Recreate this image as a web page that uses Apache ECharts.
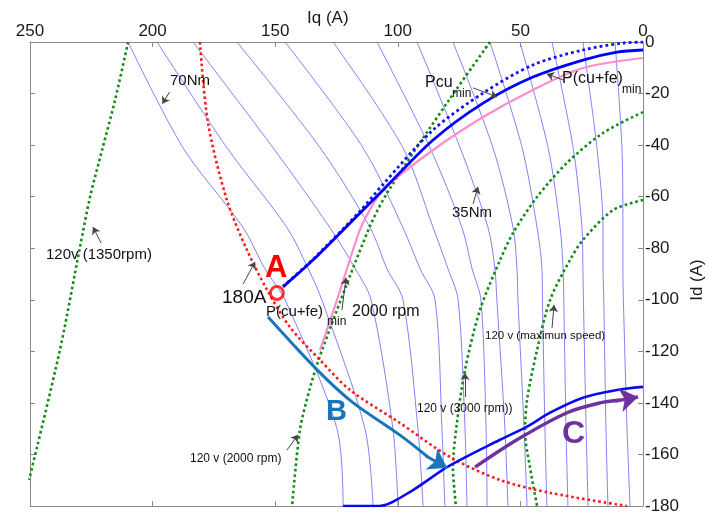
<!DOCTYPE html>
<html>
<head>
<meta charset="utf-8">
<script src="https://cdn.jsdelivr.net/npm/echarts@6/dist/echarts.min.js"></script>
<style>
html,body{margin:0;padding:0;background:#fff;}
#chart{width:709px;height:515px;}
</style>
</head>
<body>
<div id="chart"></div>
<script>
// ---- constant-torque contours: iq (A) at each id level, one entry per contour ----
const torqueNm = [70, 65, 60, 55, 50, 45, 40, 35, 30, 25, 20, 15, 10, 5];
const torqueIdLevels = [0, -41, -72, -88, -100, -150, -180];
const iqAtId0   = [210.0, 198.2, 183.5, 165.6, 146.0, 126.4, 108.5, 92.2, 77.5, 62.4, 50.2, 37.1, 24.5, 11.4];
const iqAtId41  = [187.6, 169.7, 150.9, 131.7, 114.2, 97.9, 86.9, 74.6, 61.2, 49.3, 38.7, 28.5, 18.8, 8.6];
const iqAtId72  = [163.1, 145.2, 127.7, 111.3, 97.9, 85.6, 73.8, 63.2, 53.0, 43.2, 33.8, 24.9, 16.3, 8.2];
const iqAtId88  = [154.2, 136.5, 117.3, 104.4, 90.9, 79.5, 69.7, 60.4, 51.4, 41.2, 32.6, 24.5, 16.3, 8.2];
const iqAtId100 = [146.0, 131.0, 110.9, 97.9, 84.8, 75.4, 66.1, 59.6, 51.0, 41.0, 32.3, 24.3, 16.0, 8.0];
const iqAtId150 = [124.8, 113.4, 102.0, 91.8, 82.0, 72.6, 64.0, 56.3, 48.5, 40.0, 31.4, 23.2, 15.1, 6.5];
const iqAtId180 = [122.3, 110.1, 99.9, 89.7, 80.8, 71.8, 63.6, 55.1, 47.3, 39.2, 30.6, 22.4, 14.3, 5.3];

// ---- 120 V voltage-limit curves [iq, id] ----
const volt1350 = [[210.0,0],[215.3,-22.5],[220.6,-41.9],[225.5,-60.1],[229.6,-79.5],[237.8,-119.5],[250.4,-169.9]];
const volt2000 = [[62.4,0],[79.1,-22.5],[103.6,-57.4],[111.7,-72.2],[130.9,-119.5],[135.8,-134.2],[139.9,-150.5],[143.1,-180]];
const volt3000 = [[0,-27.2],[16.3,-35.3],[31.0,-46.9],[43.2,-60.1],[53.0,-74.1],[58.3,-84.6],[66.5,-104.0],[72.6,-127.2],[75.9,-147.8],[77.5,-164.9],[76.3,-180]];
const voltMax  = [[0,-61.3],[12.2,-65.2],[24.5,-76.8],[29.8,-84.6],[37.9,-100.1],[43.2,-119.5],[47.3,-138.9],[48.1,-151.7],[46.1,-164.9],[43.2,-180]];

// ---- 180 A current limit ----
const current180 = [[180.7,0],[177.4,-31.4],[169.7,-61.3],[161.5,-80.7],[153.3,-96.2],[144.0,-110.6],[131.7,-123.4],[119.5,-135.0],[99.1,-147.8],[78.7,-161.0],[58.3,-169.9],[37.9,-174.9],[6.5,-180]];

// ---- loss-minimising trajectories ----
const pCuFeMin = [[146.8,-95.0],[134.6,-84.6],[115.4,-66.3],[106.0,-57.4],[85.6,-38.0],[65.2,-23.7],[44.9,-13.6],[24.5,-7.0],[10.6,-3.9],[0,-3.1]];
const pCuMin   = [[146.8,-94.8],[134.6,-84.3],[115.4,-65.6],[106.0,-55.2],[85.6,-34.1],[65.2,-19.8],[44.9,-8.9],[24.5,-3.1],[8.2,-0.4],[0,0]];
const pCuFe2000 = [[0,-6.2],[24.5,-10.1],[44.9,-18.6],[65.2,-29.1],[85.6,-41.9],[106.0,-57.4],[114.6,-71.0],[118.3,-80.7],[124.8,-100.1],[131.7,-119.5]];
const fluxWeakPath = [[122.3,-180],[107.7,-180],[93.8,-173.8],[79.9,-164.9],[58.3,-154.3],[47.3,-149.2],[37.9,-143.8],[24.5,-138.0],[10.6,-135.0],[0,-133.8]];

// ---- operating-point moves B and C ----
const moveB = [[152.9,-106.7],[132.9,-127.2],[118.7,-139.6],[99.1,-152.5],[87.7,-161.0]];
const moveBTip = [[88.5,-160.6],[79.9,-165.2]];
const moveC = [[68.5,-164.9],[51.4,-154.3],[31.0,-143.8],[17.5,-140.0],[9.4,-138.9]];
const moveCTip = [[11.4,-139.3],[2.0,-137.7]];
const pointA = [149.3, -97.4];

// ---- axis ticks ----
const iqTicks = [0, 50, 100, 150, 200, 250];
const idTicks = [-180, -160, -140, -120, -100, -80, -60, -40, -20, 0];

// ---- annotation pointers [from, to] in (iq, id) ----
const pointers = [
  [[193.1,-19.4],[196.0,-24.0]],   // 70Nm
  [[221.0,-78.0],[224.3,-71.8]],   // 120v (1350rpm)
  [[163.1,-93.9],[158.2,-85.3]],   // 180A
  [[122.8,-104.0],[121.1,-91.5]],  // 2000 rpm
  [[69.3,-17.8],[59.5,-21.3]],     // Pcu min
  [[32.6,-14.7],[39.2,-12.4]],     // P(cu+fe) min
  [[69.3,-62.8],[67.3,-56.2]],     // 35Nm
  [[37.1,-110.9],[36.3,-102.0]],   // maximum speed
  [[72.6,-137.7],[72.6,-128.4]],   // 3000 rpm
  [[145.2,-158.3],[140.7,-152.4]]  // 2000 rpm voltage
];

const FONT = 'Liberation Sans, Arial, Helvetica, sans-serif';
const chart = echarts.init(document.getElementById('chart'), null, {renderer: 'canvas'});

const torqueRows = [iqAtId0, iqAtId41, iqAtId72, iqAtId88, iqAtId100, iqAtId150, iqAtId180];
const series = [];
torqueNm.forEach((t, i) => {
  series.push({
    name: t + 'Nm', type: 'line', smooth: 0.3, showSymbol: false, silent: true,
    data: torqueRows.map((row, k) => [row[i], torqueIdLevels[k]]),
    lineStyle: {color: '#7474f4', width: 0.9}, z: 1
  });
});

function dotted(data, color, width, z) {
  return {type: 'line', smooth: 0.3, showSymbol: false, silent: true, data,
    lineStyle: {color, width, type: [width, width * 1.1], cap: 'butt'}, z: z || 3};
}
function solid(data, color, width, z) {
  return {type: 'line', smooth: 0.3, showSymbol: false, silent: true, data,
    lineStyle: {color, width}, z: z || 4};
}

series.push(dotted(volt1350, '#138a13', 2.6));
series.push(dotted(volt2000, '#138a13', 2.6));
series.push(dotted(volt3000, '#138a13', 2.6));
series.push(dotted(voltMax, '#138a13', 2.6));
series.push(dotted(current180, '#ff1a1a', 2.6));
series.push(solid(pCuFe2000, '#ff8ccc', 2.2, 4));
series.push(dotted(pCuMin, '#1010ff', 2.8, 5));
series.push(solid(pCuFeMin, '#0000ff', 2.8, 6));
series.push(solid(fluxWeakPath, '#0a0af0', 2.6, 6));
series.push(solid(moveB, '#1b75bb', 3, 7));
series.push({type: 'lines', coordinateSystem: 'cartesian2d', silent: true, z: 7,
  data: [{coords: moveBTip}], symbol: ['none', 'arrow'], symbolSize: 18,
  lineStyle: {color: '#1b75bb', width: 3, opacity: 1}});
series.push(solid(moveC, '#7031a0', 3.4, 7));
series.push({type: 'lines', coordinateSystem: 'cartesian2d', silent: true, z: 7,
  data: [{coords: moveCTip}], symbol: ['none', 'arrow'], symbolSize: 18,
  lineStyle: {color: '#7031a0', width: 3.4, opacity: 1}});
series.push({type: 'lines', coordinateSystem: 'cartesian2d', silent: true, z: 8,
  data: pointers.map(p => ({coords: p})), symbol: ['none', 'arrow'], symbolSize: 7,
  lineStyle: {color: '#444', width: 1, opacity: 1}});
series.push({type: 'scatter', silent: true, z: 9, data: [pointA], symbol: 'circle', symbolSize: 13,
  itemStyle: {color: 'rgba(0,0,0,0)', borderColor: '#ff0000', borderWidth: 3}});

const axisGray = '#8a8a8a';
const xBase = {type: 'value', min: 0, max: 250, interval: 50, inverse: true, gridIndex: 0,
  splitLine: {show: false},
  axisLine: {onZero: false, lineStyle: {color: axisGray, width: 1}},
  axisTick: {inside: true, length: 5, lineStyle: {color: axisGray}}};
const yBase = {type: 'value', min: -180, max: 0, interval: 20, gridIndex: 0,
  splitLine: {show: false},
  axisLine: {onZero: false, lineStyle: {color: axisGray, width: 1}},
  axisTick: {inside: true, length: 5, lineStyle: {color: axisGray}}};

function txt(x, y, text, size, color, extra) {
  return {type: 'text', x, y, silent: true, z: 20,
    style: Object.assign({text, fontSize: size, fontFamily: FONT, fill: color || '#111',
      verticalAlign: 'middle', align: 'left'}, (extra || {}))};
}

chart.setOption({
  animation: false,
  backgroundColor: '#ffffff',
  grid: {left: 30, top: 42, right: 66, bottom: 9, containLabel: false},
  xAxis: [
    Object.assign({}, xBase, {position: 'top',
      axisLabel: {fontSize: 17, color: '#1a1a1a', fontFamily: FONT, margin: 2,
        formatter: v => iqTicks.includes(v) ? String(v) : ''}}),
    Object.assign({}, xBase, {position: 'bottom', axisLabel: {show: false}})
  ],
  yAxis: [
    Object.assign({}, yBase, {position: 'right',
      axisLabel: {fontSize: 17, color: '#1a1a1a', fontFamily: FONT, margin: 2,
        formatter: v => idTicks.includes(v) ? String(v) : ''}}),
    Object.assign({}, yBase, {position: 'left', axisLabel: {show: false}})
  ],
  series,
  graphic: [
    txt(307, 18, 'Iq (A)', 17, '#1a1a1a'),
    {type: 'text', x: 697, y: 280, rotation: Math.PI / 2, silent: true, z: 20,
      style: {text: 'Id (A)', fontSize: 17, fontFamily: FONT, fill: '#1a1a1a', align: 'center', verticalAlign: 'middle'}},
    txt(170, 81, '70Nm', 15),
    txt(46, 255, '120v (1350rpm)', 15),
    txt(222, 298, '180A', 19),
    txt(265, 268, 'A', 31, '#ff0000', {fontWeight: 'bold'}),
    txt(266, 312, 'P(cu+fe)', 15),
    txt(327, 322, 'min', 12),
    txt(352, 312, '2000 rpm', 16),
    txt(425, 83, 'Pcu', 16),
    txt(452, 94, 'min', 12),
    txt(562, 79, 'P(cu+fe)', 16),
    txt(622, 90, 'min', 12),
    txt(452, 213, '35Nm', 15),
    txt(485, 336, '120 v (maximun speed)', 11.5),
    txt(417, 409, '120 v (3000 rpm))', 12),
    txt(190, 459, '120 v (2000 rpm)', 12),
    txt(326, 412, 'B', 29, '#1b75bb', {fontWeight: 'bold'}),
    txt(562, 434, 'C', 32, '#7031a0', {fontWeight: 'bold'})
  ]
});
</script>
</body>
</html>
